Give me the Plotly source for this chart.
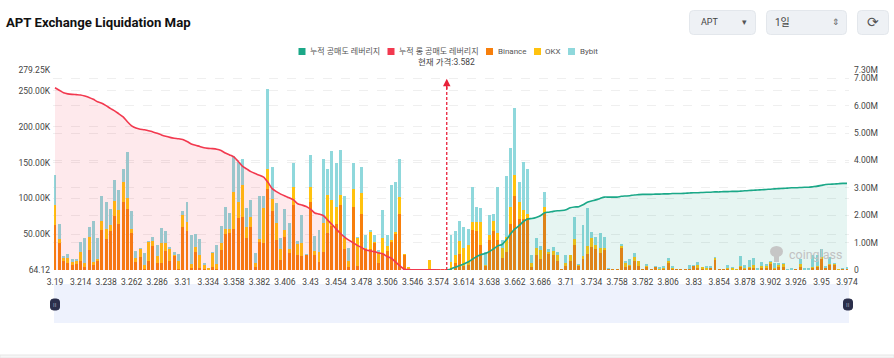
import plotly.graph_objects as go

categories = [
    "3.19","3.194","3.198","3.202","3.206","3.21",
    "3.214","3.218","3.222","3.226","3.23","3.234",
    "3.238","3.242","3.246","3.25","3.254","3.258",
    "3.262","3.266","3.27","3.274","3.278","3.282",
    "3.286","3.29","3.294","3.298","3.302","3.306",
    "3.31","3.314","3.318","3.322","3.326","3.33",
    "3.334","3.338","3.342","3.346","3.35","3.354",
    "3.358","3.362","3.366","3.37","3.374","3.378",
    "3.382","3.386","3.39","3.394","3.398","3.402",
    "3.406","3.41","3.414","3.418","3.422","3.426",
    "3.43","3.434","3.438","3.442","3.446","3.45",
    "3.454","3.458","3.462","3.466","3.47","3.474",
    "3.478","3.482","3.486","3.49","3.494","3.498",
    "3.506","3.51","3.514","3.518","3.522","3.526",
    "3.546","3.55","3.554","3.558","3.562","3.57",
    "3.574","3.578","3.582","3.59","3.598","3.606",
    "3.614","3.618","3.622","3.626","3.63","3.634",
    "3.638","3.642","3.646","3.65","3.654","3.658",
    "3.662","3.666","3.67","3.674","3.678","3.682",
    "3.686","3.69","3.694","3.698","3.702","3.706",
    "3.71","3.714","3.718","3.722","3.726","3.73",
    "3.734","3.738","3.742","3.746","3.75","3.754",
    "3.758","3.762","3.766","3.77","3.774","3.778",
    "3.782","3.786","3.79","3.794","3.798","3.802",
    "3.806","3.81","3.814","3.818","3.822","3.826",
    "3.83","3.834","3.838","3.842","3.846","3.85",
    "3.854","3.858","3.862","3.866","3.87","3.874",
    "3.878","3.882","3.886","3.89","3.894","3.898",
    "3.902","3.906","3.91","3.914","3.918","3.922",
    "3.926","3.93","3.934","3.938","3.942","3.946",
    "3.95","3.954","3.958","3.962","3.966","3.97",
    "3.974",
]
tick_labels = categories[::6]

binance = [
    62.9,37.3,13.0,10.3,7.0,8.4,12.6,4.7,28.0,7.0,
    14.0,56.4,42.9,54.5,76.0,64.3,95.5,85.3,51.7,11.7,
    17.7,1.4,13.0,33.6,10.3,10.3,26.6,12.6,20.0,1.4,
    60.1,54.1,2.3,25.2,3.3,0.9,1.4,4.7,1.9,28.0,
    50.3,51.3,56.9,73.2,74.6,44.3,60.6,4.7,39.6,38.2,
    113.2,82.9,41.9,14.0,46.6,24.2,90.9,21.0,20.0,21.4,
    95.1,21.0,10.7,24.7,52.2,61.5,64.3,90.9,29.4,4.7,
    88.5,6.1,78.3,30.3,28.9,39.1,9.3,22.8,26.1,40.1,
    51.3,78.3,21.0,2.3,0.9,0.5,0.5,0.3,1.4,0.3,
    0.3,0.3,0.3,2.3,9.3,22.4,5.6,7.0,55.9,55.0,
    35.4,6.5,41.9,54.5,41.9,16.3,24.7,63.8,103.9,71.8,
    70.8,72.2,4.7,21.0,15.4,79.2,22.8,21.0,13.0,0.5,
    7.0,13.0,35.0,6.5,15.4,22.8,32.2,28.9,24.2,27.5,
    2.3,1.4,1.4,31.2,4.7,6.1,12.6,6.1,1.9,5.6,
    0.5,5.1,0.9,2.8,10.3,1.9,0.9,0.5,0.5,0.9,
    6.5,2.8,2.3,1.4,3.3,14.9,0.5,0.5,2.3,1.4,
    0.9,4.7,2.8,3.7,4.2,0.5,3.3,3.3,9.8,1.9,
    5.6,4.2,0.0,0.0,0.2,3.7,0.0,0.0,3.3,5.1,
    15.4,3.3,7.9,8.4,0.5,1.9,1.9,
]
okx = [
    28.0,6.5,4.7,7.0,4.7,3.7,13.0,5.6,17.7,4.7,
    0.9,11.7,14.9,7.9,20.5,20.0,28.0,15.4,6.1,5.1,
    11.7,5.6,26.6,6.5,9.8,27.0,10.7,17.7,0.9,10.7,
    16.8,13.5,6.5,6.5,17.7,7.5,0.5,19.1,6.5,9.8,
    6.5,5.6,52.7,21.9,44.3,16.3,14.0,4.7,3.3,48.5,
    28.0,16.3,23.3,15.4,9.3,5.1,24.7,15.8,17.2,0.5,
    20.5,5.1,14.4,40.5,52.7,36.3,24.2,14.0,15.4,7.9,
    24.2,38.7,28.9,0.9,25.2,0.5,16.3,22.4,7.9,1.9,
    2.3,23.3,0.5,1.4,0.0,0.0,0.0,0.0,12.6,0.0,
    0.0,0.0,0.0,9.3,11.7,18.6,25.6,28.0,10.7,12.6,
    31.7,0.5,7.0,14.0,10.3,14.9,21.9,24.2,28.9,23.8,
    13.0,6.1,5.1,9.8,12.6,9.3,1.9,5.6,7.5,0.0,
    2.3,7.9,8.4,1.4,4.7,10.7,12.6,6.1,6.1,2.8,
    0.0,0.0,0.0,3.7,6.1,0.9,5.1,6.5,0.0,1.4,
    0.0,0.0,1.4,1.4,1.9,1.4,0.0,0.0,0.0,0.0,
    0.0,3.7,0.9,1.9,0.5,2.3,0.0,0.0,0.5,1.9,
    0.5,1.4,1.4,0.5,2.3,0.5,2.8,3.3,1.9,0.9,
    0.9,4.7,0.5,0.0,0.0,4.2,0.0,0.0,0.9,0.5,
    3.3,0.5,0.5,0.5,0.5,0.0,0.5,
]
bybit = [
    41.9,20.0,0.9,5.6,4.2,3.7,13.0,34.0,14.9,56.9,
    30.3,35.0,37.3,22.4,29.4,27.5,18.2,64.3,25.2,9.8,
    0.5,16.3,0.9,6.1,15.4,21.4,17.2,0.9,4.2,10.7,
    5.1,27.5,40.1,18.2,22.4,1.9,0.0,0.5,27.0,23.8,
    31.7,22.4,49.9,56.4,35.9,25.6,23.3,14.0,60.6,16.8,
    111.8,44.7,28.0,15.4,28.9,36.3,33.6,3.7,39.1,0.5,
    44.7,21.4,30.3,90.4,36.3,69.0,61.5,62.9,58.7,18.6,
    37.3,0.5,36.3,17.7,0.5,9.3,1.9,38.2,15.4,76.4,
    69.4,53.6,0.0,0.0,0.0,0.0,0.0,0.0,0.0,0.0,
    0.0,0.0,0.0,37.3,33.6,27.5,28.9,22.4,49.9,20.0,
    19.1,17.7,28.4,9.8,64.3,10.7,84.8,82.5,93.2,27.5,
    67.1,62.9,10.7,13.5,5.6,20.5,4.7,6.1,5.1,0.0,
    11.7,0.0,30.8,0.5,42.4,52.7,8.9,11.7,21.0,16.3,
    0.5,0.0,0.0,1.4,0.5,7.9,6.1,0.0,0.0,0.9,
    0.0,0.5,1.4,0.9,4.7,1.9,0.0,0.0,0.0,5.6,
    0.5,4.2,0.0,1.9,0.5,0.5,0.0,0.0,3.7,0.5,
    0.0,13.0,2.3,9.8,10.3,0.5,5.6,2.3,0.5,6.5,
    2.8,0.5,0.9,2.3,0.0,7.5,3.3,3.3,16.3,15.8,
    10.3,0.5,9.3,0.5,0.0,0.5,0.9,
]
cum_long = [
    6.65,6.56,6.47,6.43,6.41,6.40,6.39,6.35,6.30,6.23,
    6.14,6.09,6.00,5.90,5.81,5.70,5.59,5.41,5.26,5.18,
    5.14,5.12,5.08,5.04,4.99,4.93,4.88,4.84,4.81,4.79,
    4.76,4.69,4.60,4.55,4.51,4.46,4.44,4.43,4.41,4.36,
    4.27,4.20,4.13,3.97,3.79,3.69,3.59,3.52,3.46,3.39,
    3.20,2.97,2.86,2.77,2.70,2.64,2.56,2.42,2.37,2.32,
    2.22,2.08,2.04,1.99,1.83,1.67,1.50,1.34,1.20,1.09,
    1.00,0.90,0.82,0.73,0.70,0.67,0.62,0.59,0.49,0.43,
    0.29,0.15,0.03,0.02,0.01,0.01,0.01,0.01,0.01,0.01,
    0.0,0.0,0.0,
]
cum_short = [
    0.0,0.04,0.10,0.16,0.22,0.29,0.39,0.49,0.56,0.60,
    0.67,0.77,0.88,0.93,1.10,1.32,1.50,1.62,1.77,1.86,
    1.88,1.92,1.98,2.09,2.11,2.14,2.16,2.17,2.20,2.27,
    2.30,2.31,2.38,2.47,2.52,2.56,2.61,2.66,2.66,2.66,
    2.66,2.69,2.70,2.71,2.74,2.75,2.76,2.76,
    2.76,2.77,2.77,2.78,2.78,2.79,2.79,2.79,2.80,2.81,
    2.82,2.82,2.83,2.84,2.84,2.85,2.85,2.86,2.86,2.87,
    2.87,2.88,2.89,2.90,2.91,2.92,2.93,2.94,2.95,2.96,
    2.97,2.98,2.99,3.00,3.00,3.01,3.02,3.02,3.04,3.06,
    3.09,3.12,3.13,3.14,3.15,3.16,3.16,
]
left_ticks = [0.06412, 50, 100, 150, 200, 250, 279.25]
left_text = ["64.12", "50.00K", "100.00K", "150.00K", "200.00K", "250.00K", "279.25K"]
right_ticks = [0, 1, 2, 3, 4, 5, 6, 7, 7.3]
right_text = ["0", "1.00M", "2.00M", "3.00M", "4.00M", "5.00M", "6.00M", "7.00M", "7.30M"]
current_price = "3.582"
assert len(categories) == 187 and len(binance) == 187 and len(okx) == 187 and len(bybit) == 187
assert len(cum_long) == 93 and len(cum_short) == 95

FONT = "Roboto, 'Noto Sans CJK KR', sans-serif"
C_BIN, C_OKX, C_BYB, C_LONG, C_SHORT = "#F77F0C", "#FFC20E", "#8FD8DC", "#F2394F", "#1BA888"

L, R, T, B = 53, 849, 70, 270
price_idx = categories.index(current_price)
def px(v): return (v - L) / (R - L)
def py(v): return (B - v) / (B - T)

def rrect(x0, y0, x1, y1, r, fill, line=None):
    a, b, c, d = px(x0), py(y0), px(x1), py(y1)
    rx, ry = r / (R - L), r / (B - T)
    path = (f"M{a+rx},{b} L{c-rx},{b} Q{c},{b} {c},{b-ry} L{c},{d+ry} Q{c},{d} {c-rx},{d} "
            f"L{a+rx},{d} Q{a},{d} {a},{d+ry} L{a},{b-ry} Q{a},{b} {a+rx},{b} Z")
    return dict(type="path", xref="paper", yref="paper", path=path, fillcolor=fill,
                line=dict(color=line or fill, width=1), layer="above")

def label(text, x, y, size=9, color="#444", anchor="left", weight=None):
    return dict(text=text, xref="paper", yref="paper", x=px(x), y=py(y), xanchor=anchor, yanchor="middle",
                showarrow=False, font=dict(family=FONT, size=size, color=color, weight=weight))

def swatch(x0, color):
    return dict(type="rect", xref="paper", yref="paper", x0=px(x0), x1=px(x0 + 7), y0=py(48), y1=py(55),
                fillcolor=color, line_width=0)

fig = go.Figure()
fig.add_bar(x=categories, y=binance, name="Binance", marker=dict(color=C_BIN, line_width=0))
fig.add_bar(x=categories, y=okx, name="OKX", marker=dict(color=C_OKX, line_width=0))
fig.add_bar(x=categories, y=bybit, name="Bybit", marker=dict(color=C_BYB, line_width=0))
fig.add_scatter(x=categories[:93], y=cum_long, yaxis="y2", name="누적 롱 공매도 레버리지", mode="lines",
                line=dict(color=C_LONG, width=1.6, shape="spline", smoothing=0.6),
                fill="tozeroy", fillcolor="rgba(242,57,79,0.11)")
fig.add_scatter(x=categories[92:], y=cum_short, yaxis="y2", name="누적 공매도 레버리지", mode="lines",
                line=dict(color=C_SHORT, width=1.6, shape="spline", smoothing=0.6),
                fill="tozeroy", fillcolor="rgba(27,168,136,0.11)")

shapes = [
    # current price marker
    dict(type="line", xref="x", yref="y2", x0=price_idx, x1=price_idx, y0=0, y1=6.75,
         line=dict(color="#E8213A", width=1.3, dash="3px,2px"), layer="above"),
    # data-zoom band and handles
    dict(type="rect", xref="paper", yref="paper", x0=px(54), x1=px(849), y0=py(284), y1=py(323),
         fillcolor="#EEF2FD", line_width=0, layer="below"),
    rrect(50.5, 299, 59.5, 310, 3, "#2B2F4B"),
    rrect(843.5, 299, 852.5, 310, 3, "#2B2F4B"),
    # page footer rule
    dict(type="rect", xref="paper", yref="paper", x0=px(0), x1=px(894), y0=py(355), y1=py(358),
         fillcolor="#F6F6F6", line=dict(color="#E6E6E6", width=1), layer="below"),
    # header controls
    rrect(689.5, 10.5, 755.5, 34.5, 4, "#EEF1F5", "#E3E7EC"),
    rrect(766.5, 10.5, 846.5, 34.5, 4, "#EEF1F5", "#E3E7EC"),
    rrect(857.5, 10.5, 888.5, 34.5, 4, "#EEF1F5", "#E3E7EC"),
    # legend swatches
    swatch(298.5, C_SHORT), swatch(387.5, C_LONG), swatch(486, C_BIN), swatch(534, C_OKX), swatch(568, C_BYB),
    # watermark emblem
    dict(type="circle", xref="paper", yref="paper", x0=px(770), x1=px(783), y0=py(246), y1=py(257),
         fillcolor="#C6C6C6", line_width=0, layer="above"),
    dict(type="rect", xref="paper", yref="paper", x0=px(774), x1=px(779), y0=py(255), y1=py(262),
         fillcolor="#C6C6C6", line_width=0, layer="above"),
]
annotations = [
    label("누적 공매도 레버리지", 308, 51.5, 8, "#555"),
    label("누적 롱 공매도 레버리지", 397, 51.5, 8, "#555"),
    label("Binance", 496, 51.5, 8, "#555"),
    label("OKX", 543, 51.5, 8, "#555"),
    label("Bybit", 578, 51.5, 8, "#555"),
    label("현재 가격:3.582", 446.5, 62, 8.5, "#444", "center"),
    label("coinglass", 787, 254, 12.5, "#C2C2C2"),
    label("APT", 699, 22.5, 9, "#444"),
    label("▾", 744, 22, 9, "#555", "center"),
    label("1일", 773, 22.5, 10, "#444"),
    label("⇕", 836, 22.5, 9, "#666", "center"),
    label("⟳", 873, 22, 14, "#555", "center"),
    label("II", 55, 304.5, 6, "#9AA0B8", "center"),
    label("II", 848, 304.5, 6, "#9AA0B8", "center"),
    dict(x=price_idx, y=6.98, xref="x", yref="y2", axref="x", ayref="y2", ax=price_idx, ay=6.55, text="",
         showarrow=True, arrowhead=2, arrowsize=1, arrowwidth=1.5, arrowcolor="#E8213A"),
]

fig.update_layout(
    width=894, height=358, autosize=False,
    margin=dict(l=L, r=894 - R, t=T, b=358 - B, pad=0),
    paper_bgcolor="white", plot_bgcolor="white",
    barmode="stack", bargap=0.3, showlegend=False,
    font=dict(family=FONT, size=8.5, color="#444"),
    title=dict(text="APT Exchange Liquidation Map", x=6 / 894, y=1 - 22 / 358, xanchor="left", yanchor="middle",
               xref="container",
               font=dict(family=FONT, size=13.2, color="#111", weight="bold")),
    xaxis=dict(type="category", categoryorder="array", categoryarray=categories, range=[-0.47, 186.47],
               tickmode="array", tickvals=tick_labels, ticktext=tick_labels, showgrid=False, showline=False,
               ticks="", tickangle=0, ticklabelstandoff=5, tickfont=dict(size=8.5, color="#444")),
    yaxis=dict(range=[left_ticks[0], left_ticks[-1]], tickmode="array", tickvals=left_ticks, ticktext=left_text,
               showgrid=True, gridcolor="#EFEFEF", griddash="dash", gridwidth=1, zeroline=False, showline=False,
               ticks="", ticklabelstandoff=2, tickfont=dict(size=8.5, color="#444")),
    yaxis2=dict(range=[0, 7.3], overlaying="y", side="right", tickmode="array", tickvals=right_ticks,
                ticktext=right_text, showgrid=True, gridcolor="#EFEFEF", griddash="dash", gridwidth=1,
                zeroline=False, showline=False, ticks="", ticklabelstandoff=4, tickfont=dict(size=8.5, color="#444")),
    shapes=shapes, annotations=annotations,
)
fig.write_html("out.html", config=dict(displayModeBar=False),
               post_script="document.body.style.margin='0';")
